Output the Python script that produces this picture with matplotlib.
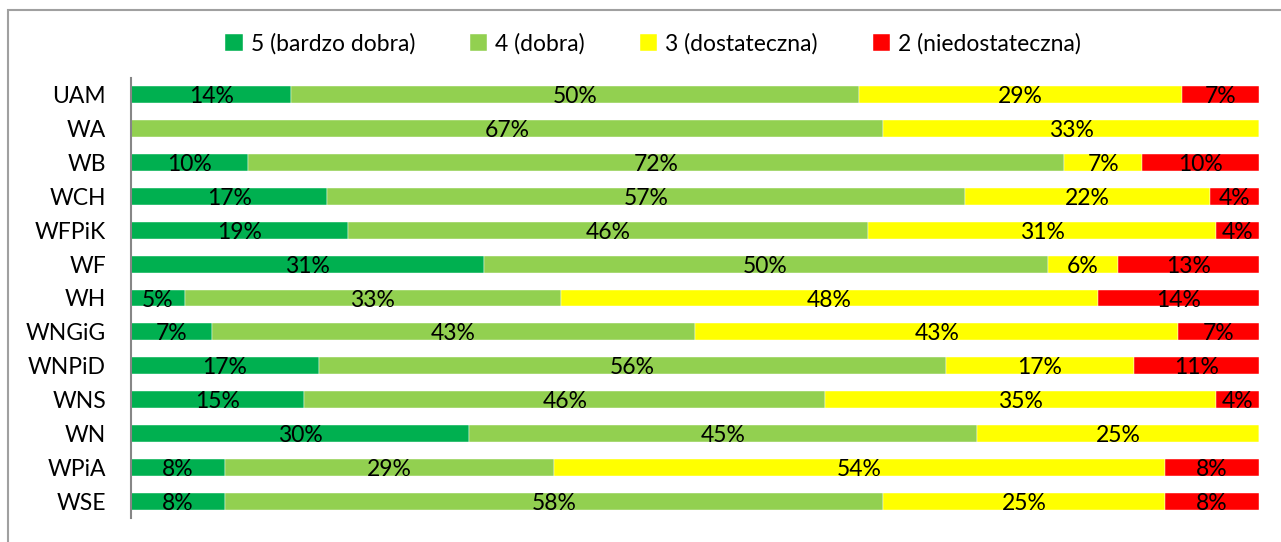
import matplotlib.pyplot as plt
import numpy as np
from matplotlib.patches import Rectangle

plt.rcParams['font.family'] = ['Lato', 'DejaVu Sans']

# data (percent shares per faculty)
faculties = ['UAM', 'WA', 'WB', 'WCH', 'WFPiK', 'WF', 'WH', 'WNGiG', 'WNPiD',
             'WNS', 'WN', 'WPiA', 'WSE']
grade5 = [14.2, 0.0, 10.34, 17.39, 19.23, 31.25, 4.76, 7.14, 16.67, 15.38, 30.0, 8.33, 8.33]
grade4 = [50.3, 66.67, 72.41, 56.52, 46.15, 50.0, 33.33, 42.86, 55.56, 46.15, 45.0, 29.17, 58.33]
grade3 = [28.7, 33.33, 6.90, 21.74, 30.77, 6.25, 47.62, 42.86, 16.67, 34.62, 25.0, 54.17, 25.0]
grade2 = [6.8, 0.0, 10.34, 4.35, 3.85, 12.5, 14.29, 7.14, 11.11, 3.85, 0.0, 8.33, 8.33]

series = [grade5, grade4, grade3, grade2]
names = ['5 (bardzo dobra)', '4 (dobra)', '3 (dostateczna)', '2 (niedostateczna)']
colors = ['#00B050', '#92D050', '#FFFF00', '#FF0000']

fs = 16.5

fig = plt.figure(figsize=(12.81, 5.42), dpi=100)
ax = fig.add_axes([131 / 1281, 1 - 518 / 542, (1259 - 131) / 1281, 440 / 542])

y = np.arange(len(faculties))
left = np.zeros(len(faculties))
for vals, name, col in zip(series, names, colors):
    vals = np.array(vals)
    ax.barh(y, vals, left=left, height=0.5, color=col, label=name,
            edgecolor='white', linewidth=0.3)
    for yi, l, v in zip(y, left, vals):
        if v > 0:
            ax.text(l + v / 2, yi + 0.06, f'{int(v + 0.5)}%', ha='center', va='center',
                    fontsize=fs, color='black')
    left += vals

ax.set_xlim(0, 100)
ax.set_ylim(len(faculties) - 0.5, -0.5)
ax.set_yticks(y)
ax.set_yticklabels(faculties, fontsize=fs)
ax.tick_params(axis='y', length=0, pad=18)
ax.set_xticks([])
for s in ['top', 'right', 'bottom']:
    ax.spines[s].set_visible(False)
ax.spines['left'].set_color('#868686')
ax.spines['left'].set_linewidth(1.5)

fig.legend(loc='center', bbox_to_anchor=(653 / 1281, 1 - 44 / 542), ncol=4,
           frameon=False, fontsize=fs, handlelength=0.75, handleheight=0.75,
           handletextpad=0.35, columnspacing=2.4)

# outer chart frame (only top and left edges visible)
fig.patches.append(Rectangle((8 / 1281, -0.1), 1.2, 1 - 10 / 542 + 0.1,
                             transform=fig.transFigure, fill=False,
                             edgecolor='#a0a0a0', linewidth=1.5))

fig.savefig('out.png', dpi=100)
